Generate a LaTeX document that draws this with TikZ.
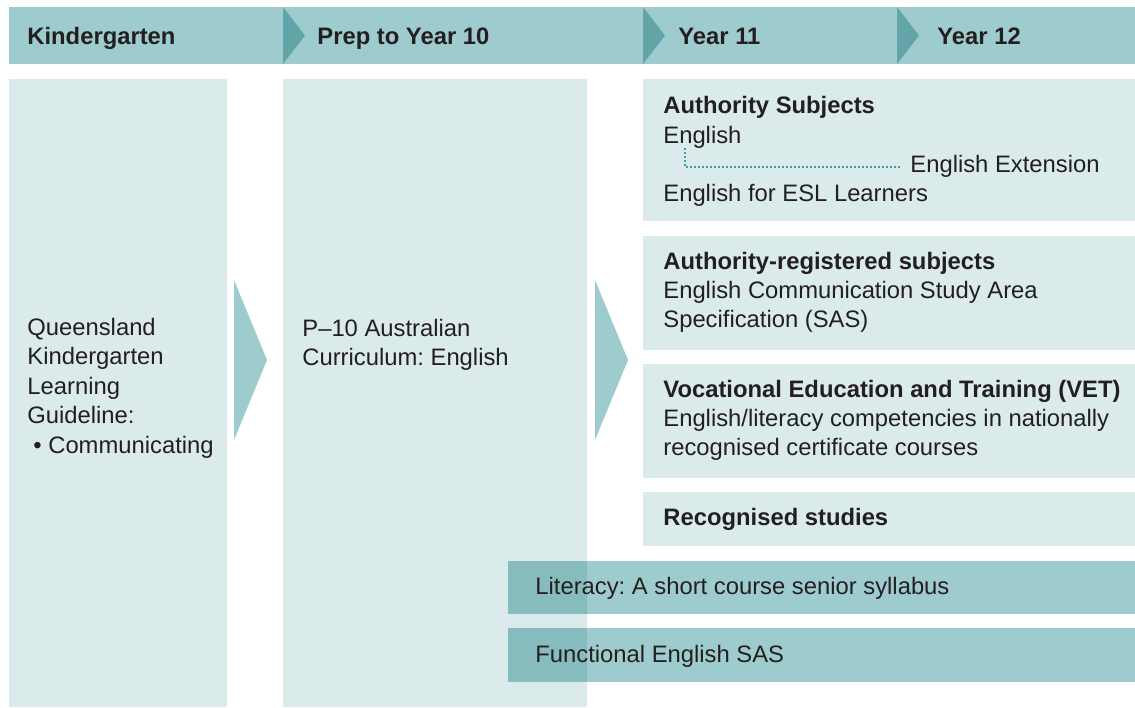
\documentclass[tikz,border=0pt]{standalone}
\usepackage{fontspec}
\setmainfont{Liberation Sans}
\usetikzlibrary{calc}

\definecolor{hdrfill}{HTML}{9ECCCE}
\definecolor{chevfill}{HTML}{62A4A7}
\definecolor{boxfill}{HTML}{DBEBEB}
\definecolor{mixfill}{HTML}{87BCBF}
\definecolor{dotcol}{HTML}{3C9FA5}
\definecolor{txtcol}{HTML}{231F20}

\tikzset{
  txt/.style={anchor=base west,inner sep=0pt,text=txtcol,font=\fontsize{11.9}{14}\selectfont\frenchspacing},
  bold/.style={txt,font=\fontsize{11.9}{14}\selectfont\frenchspacing\bfseries},
  link/.style={dotcol,line width=0.75pt,dash pattern=on 0.75pt off 1.25pt},
}

\begin{document}
\begin{tikzpicture}[x=0.5pt,y=-0.5pt]
\useasboundingbox (0,0) rectangle (1135,707);

% Header strip.
\fill[hdrfill] (9,7) rectangle (1135,64);

% Header chevrons.
\foreach \x in {283,643,897} {
    \fill[chevfill] (\x,7) --++(22,28.5) --++(-22,28.5) --cycle;
}

% Header labels.
\foreach \x/\n/\t in {27/kg/Kindergarten,317/prep/Prep to Year 10,678/ya/Year 11,937/yb/Year 12} {
    \node[bold] (hd\n) at (\x,44) {\t};
}

% Kindergarten and P-10 columns.
\fill[boxfill] (9,79) rectangle (227,707);
\fill[boxfill] (283,79) rectangle (587,707);

% Big arrows between the columns.
\foreach \x in {234,595} {
    \fill[hdrfill] (\x,280) --++(33,80) --++(-33,80) --cycle;
}

% Senior boxes.
\foreach \t/\b in {79/221,236/350,364/478,492/546} {
    \fill[boxfill] (643,\t) rectangle (1135,\b);
}

% Short course bands, darker where they lie over the P-10 column.
\foreach \t/\b in {561/614,628/682} {
    \fill[hdrfill] (508,\t) rectangle (1135,\b);
    \fill[mixfill] (508,\t) rectangle (587,\b);
}

% Kindergarten text. One node per line.
\foreach \i/\t in {0/Queensland,1/Kindergarten,2/Learning,3/Guideline:} {
    \node[txt] (kg\i) at (27,335+29.5*\i) {\t};
}
\node[txt] (kg4) at (33,453) {\textbullet\ Communicating};

% P-10 text.
\node[txt] (pa) at (302,336) {P–10 Australian};
\node[txt] (pb) at (302,365) {Curriculum: English};

% Authority subjects.
\node[bold] (auth) at (663,113) {Authority Subjects};
\node[txt] (eng) at (663,143) {English};
\node[txt] (engx) at (910,172) {English Extension};
\node[txt] (esl) at (663,201) {English for ESL Learners};

% Dotted link English -- English Extension.
\draw[link] ($(eng.base west)+(22,5)$) |- ($(engx.base west)+(-10,-5)$);

% Authority-registered subjects.
\node[bold] (reg) at (663,269) {Authority-registered subjects};
\node[txt] (rega) at (663,298) {English Communication Study Area};
\node[txt] (regb) at (663,327) {Specification (SAS)};

% VET.
\node[bold] (vet) at (663,397) {Vocational Education and Training (VET)};
\node[txt] (veta) at (663,426) {English/literacy competencies in nationally};
\node[txt] (vetb) at (663,455) {recognised certificate courses};

% Recognised studies.
\node[bold] (rec) at (663,525) {Recognised studies};

% Band labels.
\node[txt] (lit) at (535,594) {Literacy: A short course senior syllabus};
\node[txt] (fun) at (535,662) {Functional English SAS};
\end{tikzpicture}
\end{document}
